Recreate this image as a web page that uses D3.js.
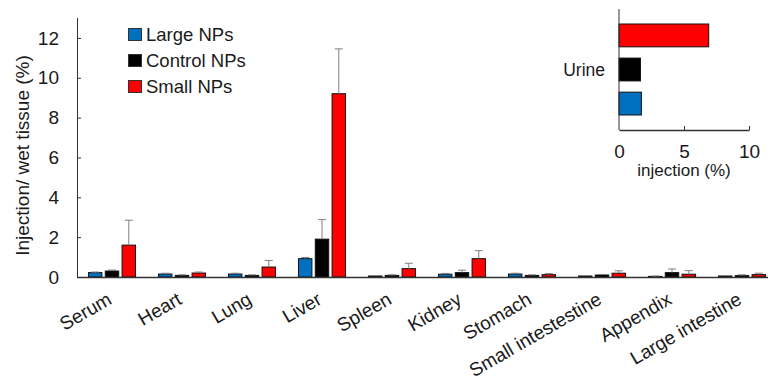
<!DOCTYPE html>
<html lang="en">
<head>
<meta charset="UTF-8">
<script src="https://d3js.org/d3.v7.min.js"></script>
<style>
	body { margin: 0; background: #fff; }
	svg { font-family: "Liberation Sans", Arial, sans-serif; }
	.axis path, .axis line { stroke: #333; }
	.axis text { fill: #1a1a1a; }
</style>
</head>
<body>
<svg id="chart" width="768" height="380"></svg>
<script>
	// tissues on the x axis (label spelled as in the figure)
	const organs = ["Serum", "Heart", "Lung", "Liver", "Spleen", "Kidney", "Stomach", "Small intestestine", "Appendix", "Large intestine"]
	const groups = ["Large NPs", "Control NPs", "Small NPs"]
	const colors = ["#0070c0", "#000000", "#ff0000"]

	const largeVals   = [0.22, 0.15, 0.15, 0.92, 0.05, 0.14, 0.15, 0.05, 0.03, 0.05]
	const largeErr    = [0.03, 0.04, 0.04, 0.06, 0.02, 0.04, 0.04, 0.02, 0.02, 0.02]
	const controlVals = [0.30, 0.08, 0.08, 1.90, 0.08, 0.22, 0.08, 0.10, 0.22, 0.07]
	const controlErr  = [0.05, 0.03, 0.03, 0.98, 0.03, 0.12, 0.03, 0.03, 0.18, 0.04]
	const smallVals   = [1.60, 0.20, 0.50, 9.20, 0.42, 0.92, 0.12, 0.19, 0.14, 0.12]
	const smallErr    = [1.25, 0.05, 0.33, 2.25, 0.27, 0.40, 0.05, 0.12, 0.18, 0.07]

	// inset: urine
	const urineCats = ["Urine"]
	const urineVals = [1.72, 1.65, 6.9]   // Large, Control, Small
	const yTicks = [0, 2, 4, 6, 8, 10, 12]
	const insetTicks = [0, 5, 10]

	const series = [
		{ name: groups[0], vals: largeVals, err: largeErr, color: colors[0] },
		{ name: groups[1], vals: controlVals, err: controlErr, color: colors[1] },
		{ name: groups[2], vals: smallVals, err: smallErr, color: colors[2] }
	]

	const svg = d3.select("#chart")
	const m = { left: 77, top: 18, bottom: 277 }

	const x = d3.scaleBand().domain(organs).range([m.left, m.left + 700]).paddingInner(0).paddingOuter(0)
	const x1 = d3.scaleBand().domain(groups).range([0, 47]).paddingInner(0.2)
	const y = d3.scaleLinear().domain([0, 13]).range([m.bottom, m.top])

	// y axis
	const yAxis = svg.append("g").attr("class", "axis")
		.attr("transform", `translate(${m.left},0)`)
		.call(d3.axisLeft(y).tickValues(yTicks).tickSizeInner(-4).tickSizeOuter(0).tickPadding(18))
	yAxis.selectAll("text").style("font-size", "19px")
	yAxis.select(".domain").attr("d", `M0.5,${m.bottom}V${m.top}`)
	yAxis.selectAll(".tick").filter(d => d === 0).select("line").remove()

	svg.append("text")
		.attr("transform", `translate(29,${(m.top + m.bottom) / 2 + 8}) rotate(-90)`)
		.attr("text-anchor", "middle")
		.style("font-size", "19px")
		.attr("fill", "#1a1a1a")
		.text("Injection/ wet tissue (%)")

	// bars
	const barG = svg.append("g")
	series.forEach(function (s, i) {
		const off = x.bandwidth() / 2 - 23.5 + x1(s.name)
		barG.selectAll(null).data(organs).join("rect")
			.attr("x", (d, j) => x(d) + off)
			.attr("y", (d, j) => y(s.vals[j]))
			.attr("width", x1.bandwidth())
			.attr("height", (d, j) => y(0) - y(s.vals[j]))
			.attr("fill", s.color)
			.attr("stroke", "#111")
			.attr("stroke-width", 1)
		const cx = (d) => x(d) + off + x1.bandwidth() / 2
		barG.selectAll(null).data(organs).join("path")
			.attr("d", (d, j) => {
				const top = y(s.vals[j] + s.err[j]), base = y(s.vals[j])
				return `M${cx(d)},${base}V${top}M${cx(d) - 4},${top}H${cx(d) + 4}`
			})
			.attr("stroke", "#7f7f7f")
			.attr("stroke-width", 1)
			.attr("fill", "none")
	})

	// x axis line
	svg.append("line")
		.attr("x1", m.left).attr("x2", 768)
		.attr("y1", m.bottom + 0.5).attr("y2", m.bottom + 0.5)
		.attr("stroke", "#333").attr("stroke-width", 1.5)

	// x labels
	svg.append("g").selectAll("text").data(organs).join("text")
		.attr("transform", d => `translate(${x(d) + x.bandwidth() / 2 + 1},${m.bottom + 26}) rotate(-30)`)
		.attr("text-anchor", "end")
		.style("font-size", "19px")
		.attr("fill", "#1a1a1a")
		.text(d => d)

	// legend
	const leg = svg.append("g").attr("transform", "translate(128.5,28.5)")
	groups.forEach(function (g, i) {
		const row = leg.append("g").attr("transform", `translate(0,${i * 26})`)
		row.append("rect").attr("width", 13).attr("height", 12)
			.attr("fill", colors[i]).attr("stroke", "#333").attr("stroke-width", 1)
		row.append("text").attr("x", 17.5).attr("y", 12.5)
			.style("font-size", "18.5px").attr("fill", "#1a1a1a").text(g)
	})

	// inset
	const ix = d3.scaleLinear().domain([0, 10]).range([619, 749])
	const iy = d3.scaleBand().domain(urineCats).range([9, 130])
	const iy1 = d3.scaleBand().domain(groups.slice().reverse()).range([iy("Urine") + 15, iy("Urine") + iy.bandwidth() - 15]).paddingInner(0.33)

	const inset = svg.append("g")
	groups.forEach(function (g, i) {
		inset.append("rect")
			.attr("x", ix(0))
			.attr("y", iy1(g))
			.attr("width", ix(urineVals[i]) - ix(0))
			.attr("height", iy1.bandwidth())
			.attr("fill", colors[i])
			.attr("stroke", "#111")
	})
	const ixAxis = inset.append("g").attr("class", "axis")
		.attr("transform", "translate(0,130)")
		.call(d3.axisBottom(ix).tickValues(insetTicks).tickSizeInner(-4).tickSizeOuter(0).tickPadding(15))
	ixAxis.selectAll("text").style("font-size", "19px")
	ixAxis.select(".domain").attr("stroke-width", 1.5)
	ixAxis.selectAll(".tick").filter(d => d === 0).select("line").remove()
	inset.append("line").attr("x1", ix(0)).attr("x2", ix(0)).attr("y1", 9).attr("y2", 130)
		.attr("stroke", "#333")
	inset.append("text")
		.attr("x", 605).attr("y", iy("Urine") + iy.bandwidth() / 2 + 6)
		.attr("text-anchor", "end").style("font-size", "17.5px").attr("fill", "#1a1a1a")
		.text("Urine")
	inset.append("text")
		.attr("x", 684).attr("y", 176)
		.attr("text-anchor", "middle").style("font-size", "17px").attr("fill", "#1a1a1a")
		.text("injection (%)")
</script>
</body>
</html>
